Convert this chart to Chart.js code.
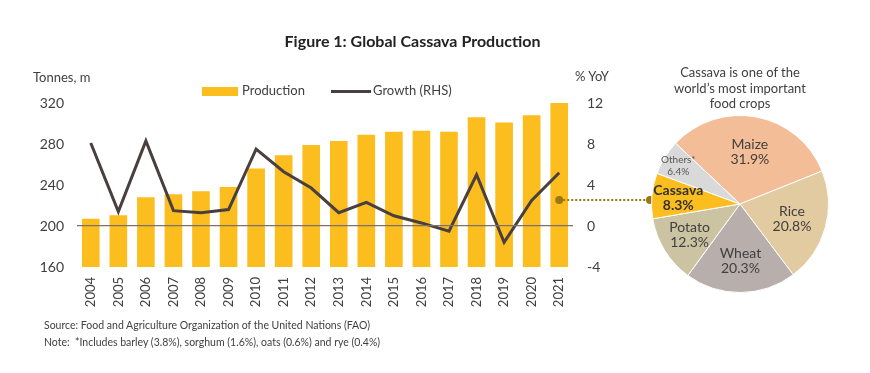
<!DOCTYPE html>
<html>
<head>
<meta charset="utf-8">
<script src="https://cdn.jsdelivr.net/npm/chart.js@4"></script>
<style>
  body{margin:0;background:#fff;font-family:Lato,'Open Sans',sans-serif;color:#404040;}
  #wrap{position:relative;width:870px;height:373px;overflow:hidden;}
  .txt{position:absolute;white-space:nowrap;}
  #mainChart{position:absolute;left:0;top:0;}
  #pieBox{position:absolute;left:640px;top:104px;width:200px;height:200px;}
</style>
</head>
<body>
<div id="wrap">
  <canvas id="mainChart" width="870" height="373"></canvas>
  <div id="pieBox"><canvas id="pieChart"></canvas></div>
  <div class="txt" style="left:0;width:825px;top:31px;text-align:center;font-weight:bold;font-size:16px;color:#222;">Figure 1: Global Cassava Production</div>
  <div class="txt" style="left:33px;top:69px;font-size:13px;">Tonnes, m</div>
  <div class="txt" style="left:575px;top:68px;font-size:13px;">% YoY</div>
  <div class="txt" style="left:202px;top:87px;width:36px;height:9px;background:#fcbd1f;"></div>
  <div class="txt" style="left:242px;top:82px;font-size:13px;">Production</div>
  <div class="txt" style="left:331px;top:90px;width:40px;height:3px;background:#4a3f3f;"></div>
  <div class="txt" style="left:373px;top:82px;font-size:13px;">Growth (RHS)</div>
  <div class="txt" style="left:660px;top:65px;width:160px;text-align:center;font-size:13px;line-height:15.5px;">Cassava is one of the<br>world’s most important<br>food crops</div>
  <div class="txt" style="left:44px;top:319px;font-size:10.5px;">Source: Food and Agriculture Organization of the United Nations (FAO)</div>
  <div class="txt" style="left:44px;top:336px;font-size:10.5px;">Note:&nbsp; *Includes barley (3.8%), sorghum (1.6%), oats (0.6%) and rye (0.4%)</div>
</div>
<script>
'use strict';
let years=['2004','2005','2006','2007','2008','2009','2010','2011','2012','2013','2014','2015','2016','2017','2018','2019','2020','2021'];
let production=[207,210.5,228,231,234,238,256,269,279,283,289,292,293,292,306,301,308,320];
let growth=[8.1,1.4,8.3,1.5,1.3,1.6,7.5,5.3,3.7,1.3,2.3,1.0,0.3,-0.5,5.0,-1.6,2.5,5.2];
let leftTicks=[160,200,240,280,320];
let rightTicks=[-4,0,4,8,12];
let crops=['Maize','Rice','Wheat','Potato','Cassava','Others*'];
let cropShares=[31.9,20.8,20.3,12.3,8.3,6.4];
let cropColors=['#f2bd97','#e2caa1','#b8aeab','#cbc3a1','#fcbd1f','#d9d9d9'];

let textColor='#404040';

// leader line from the growth line to the cassava slice
let leaderPlugin={
  id:'leader',
  afterDraw(chart){
    let c=chart.ctx;
    let xs=chart.scales.x;
    let x1=xs.getPixelForValue(years.length-1);
    let y=200;
    let x2=650;
    c.save();
    c.strokeStyle='#9c7612';
    c.lineWidth=2;
    c.setLineDash([2,2]);
    c.beginPath();
    c.moveTo(x1,y);
    c.lineTo(x2,y);
    c.stroke();
    c.setLineDash([]);
    c.fillStyle='#9c7612';
    c.beginPath();c.arc(x1,y,4,0,Math.PI*2);c.fill();
    c.beginPath();c.arc(x2,y,4,0,Math.PI*2);c.fill();
    c.restore();
  }
};

let ctx=document.getElementById('mainChart');
let mainChart=new Chart(ctx,{
  data:{
    labels:years,
    datasets:[{
      type:'line',
      label:'Growth (RHS)',
      data:growth,
      yAxisID:'y1',
      borderColor:'#4a3f3f',
      borderWidth:3,
      pointRadius:0,
      tension:0,
      order:0
    },{
      type:'bar',
      label:'Production',
      data:production,
      yAxisID:'y',
      backgroundColor:'#fcbd1f',
      categoryPercentage:1,
      barPercentage:0.64,
      order:1
    }]
  },
  options:{
    responsive:false,
    animation:false,
    events:[],
    layout:{padding:{left:0,right:257,top:103,bottom:66}},
    plugins:{legend:{display:false},tooltip:{enabled:false}},
    scales:{
      x:{
        grid:{display:false},
        border:{display:false},
        ticks:{color:textColor,font:{family:'Lato',size:13},maxRotation:90,minRotation:90,padding:2,autoSkip:false},
        afterFit(s){s.height=40;}
      },
      y:{
        position:'left',
        min:160,max:320,
        afterBuildTicks(s){s.ticks=leftTicks.map(v=>({value:v}));},
        ticks:{color:textColor,font:{family:'Lato',size:14},padding:13},
        grid:{z:1,drawTicks:false,color:(c)=>c.tick&&c.tick.value===200?'#7d716c':'rgba(0,0,0,0)',lineWidth:1.2},
        border:{display:false},
        afterFit(s){s.width=77;}
      },
      y1:{
        position:'right',
        min:-4,max:12,
        afterBuildTicks(s){s.ticks=rightTicks.map(v=>({value:v}));},
        ticks:{color:textColor,font:{family:'Lato',size:14},padding:14},
        grid:{display:false,drawTicks:false},
        border:{display:false},
        afterFit(s){s.width=40;}
      }
    }
  },
  plugins:[leaderPlugin]
});

// labels inside the pie
let radiusFactor=[0.6,0.61,0.64,0.67,0.7,0.82];
let pieLabelPlugin={
  id:'pieLabels',
  afterDatasetsDraw(chart){
    let c=chart.ctx;
    let meta=chart.getDatasetMeta(0);
    c.save();
    c.textAlign='center';
    c.textBaseline='middle';
    meta.data.forEach((arc,i)=>{
      let mid=(arc.startAngle+arc.endAngle)/2;
      let r=arc.outerRadius*radiusFactor[i];
      let x=arc.x+Math.cos(mid)*r;
      let y=arc.y+Math.sin(mid)*r;
      let size=14,weight='normal',col=textColor,gap=15;
      if(crops[i]==='Others*'){size=10;gap=12;col='#555';}
      if(crops[i]==='Cassava'){weight='bold';col='#333';}
      c.fillStyle=col;
      c.font=weight+' '+size+'px Lato';
      c.fillText(crops[i],x,y-gap/2);
      c.fillText(cropShares[i].toFixed(1)+'%',x,y+gap/2);
    });
    c.restore();
  }
};

let pieCtx=document.getElementById('pieChart');
let pieChart=new Chart(pieCtx,{
  type:'pie',
  data:{
    labels:crops,
    datasets:[{
      data:cropShares,
      backgroundColor:cropColors,
      borderColor:'#ffffff',
      borderWidth:1
    }]
  },
  options:{
    responsive:true,
    maintainAspectRatio:false,
    animation:false,
    events:[],
    rotation:-46.7,
    layout:{padding:11},
    plugins:{legend:{display:false},tooltip:{enabled:false}}
  },
  plugins:[pieLabelPlugin]
});
</script>
</body>
</html>
